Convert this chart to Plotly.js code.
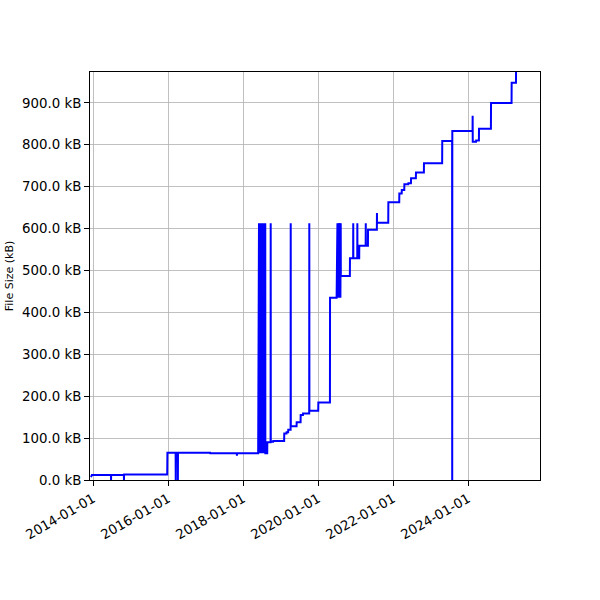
<!DOCTYPE html>
<html>
<head>
<meta charset="utf-8">
<script src="https://cdn.plot.ly/plotly-3.0.1.min.js"></script>
<style>html,body{margin:0;padding:0;background:#fff}#chart{width:600px;height:600px}</style>
</head>
<body>
<div id="chart"></div>
<script>
// File size history (kB) over time
const dates = [
  "2013-12-12","2013-12-20","2014-06-24","2014-06-25","2014-06-26","2014-10-28","2014-10-29","2014-10-30",
  "2015-12-24","2015-12-26","2016-03-15","2016-03-16","2016-03-17","2016-04-05","2016-04-06","2016-04-07",
  "2017-02-14","2017-02-15","2017-11-01","2017-11-02","2017-11-04","2018-05-28",
  "2018-05-29","2018-05-30","2018-06-05","2018-06-06","2018-06-12","2018-06-13","2018-06-19","2018-06-20",
  "2018-06-26","2018-06-27","2018-07-03","2018-07-04","2018-07-10","2018-07-11","2018-07-17","2018-07-18",
  "2018-07-24","2018-07-25","2018-07-31","2018-08-01","2018-08-05","2018-08-06",
  "2018-08-24","2018-08-25","2018-09-26","2018-09-27","2018-09-28","2018-10-21","2018-10-22",
  "2019-02-05","2019-02-06","2019-02-28","2019-03-01","2019-03-16","2019-03-17",
  "2019-04-09","2019-04-10","2019-04-11","2019-06-06","2019-06-07","2019-07-15","2019-07-16",
  "2019-08-07","2019-08-08","2019-10-07","2019-10-08","2019-10-09","2020-01-03","2020-01-04",
  "2020-04-26","2020-04-27","2020-06-30",
  "2020-07-01","2020-07-02","2020-07-08","2020-07-09","2020-07-15","2020-07-16","2020-07-22","2020-07-23",
  "2020-07-29","2020-07-30","2020-08-05","2020-08-06","2020-08-09","2020-08-10",
  "2020-11-06","2020-11-07","2020-12-08","2020-12-09","2020-12-10","2021-01-17","2021-01-18","2021-01-19",
  "2021-02-05","2021-02-06","2021-04-09","2021-04-10","2021-04-11","2021-05-01","2021-05-02",
  "2021-07-27","2021-07-28","2021-07-29","2021-11-15","2021-11-16","2022-03-02","2022-03-03",
  "2022-03-26","2022-03-27","2022-04-20","2022-04-21","2022-05-29","2022-05-30","2022-06-24","2022-06-25",
  "2022-08-11","2022-08-12","2022-10-28","2022-10-29","2023-04-24","2023-04-25",
  "2023-07-30","2023-07-31","2023-08-01","2024-02-14","2024-02-15","2024-02-16","2024-03-19","2024-03-20",
  "2024-04-16","2024-04-17","2024-08-11","2024-08-12","2025-02-28","2025-03-01","2025-04-12","2025-04-13"
];
const sizeKB = [
  7,12,12,0,12,12,0,13,
  13,65,65,0,65,65,0,65,
  65,64,64,58,64,64,
  613,64,613,64,613,64,613,64,
  613,64,613,64,613,64,613,64,
  613,64,613,64,613,64,
  64,90,90,613,91,91,93,
  93,111,111,114,114,120,
  120,613,128,128,138,138,155,
  155,159,159,613,165,165,185,
  185,435,435,
  613,435,613,435,613,435,613,435,
  613,435,613,435,613,487,
  487,529,529,613,529,529,613,529,
  529,559,559,613,559,559,597,
  597,637,614,614,663,663,684,
  684,692,692,706,706,708,708,720,
  720,734,734,756,756,809,
  809,0,833,833,869,807,807,810,
  810,838,838,900,900,948,948,990
];
const yTicks = [0,100,200,300,400,500,600,700,800,900];
const yTickText = yTicks.map(v => v.toFixed(1) + " kB");
const xTicks = ["2014-01-01","2016-01-01","2018-01-01","2020-01-01","2022-01-01","2024-01-01"];
const xRange = ["2013-12-02","2025-12-02"];
const yRange = [0, 973.7];

const font = {family: "DejaVu Sans, sans-serif", size: 13.33, color: "#000"};

Plotly.newPlot("chart", [{
  x: dates, y: sizeKB, type: "scatter", mode: "lines",
  line: {color: "#0000ff", width: 2},
  hoverinfo: "skip"
}], {
  width: 600, height: 600,
  margin: {l: 90, r: 60, t: 72, b: 120},
  paper_bgcolor: "#fff", plot_bgcolor: "#fff",
  showlegend: false,
  font: font,
  xaxis: {
    type: "date", range: xRange,
    tickvals: xTicks, ticktext: xTicks, tickangle: -30,
    showgrid: true, gridcolor: "#b0b0b0", gridwidth: 0.8,
    showline: true, linecolor: "#000", linewidth: 1, mirror: true,
    ticks: "outside", ticklen: 5, tickwidth: 1, tickcolor: "#000",
    zeroline: false, tickfont: font
  },
  yaxis: {
    range: yRange,
    tickvals: yTicks, ticktext: yTickText,
    showgrid: true, gridcolor: "#b0b0b0", gridwidth: 0.8,
    showline: true, linecolor: "#000", linewidth: 1, mirror: true,
    ticks: "outside", ticklen: 5, tickwidth: 1, tickcolor: "#000",
    zeroline: false, tickfont: font,
    title: {text: "File Size (kB)", font: {family: "DejaVu Sans, sans-serif", size: 11, color: "#000"}, standoff: 6}
  }
}, {displayModeBar: false, staticPlot: true});
</script>
</body>
</html>
